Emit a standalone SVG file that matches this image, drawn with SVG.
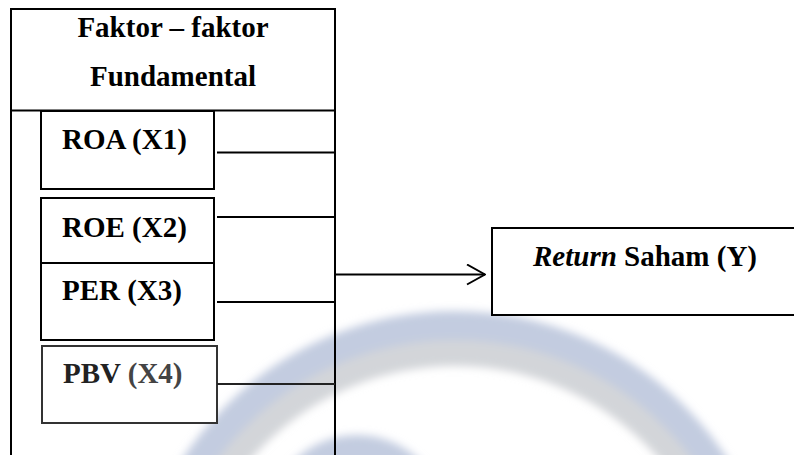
<svg xmlns="http://www.w3.org/2000/svg" width="794" height="455" viewBox="0 0 794 455">
  <defs>
    <style>
      .ln { stroke: #000; stroke-width: 2; fill: none; }
      .box { stroke: #000; stroke-width: 2; fill: #fff; }
      .wm { fill: none; }
    </style>
    <filter id="blur" x="-20%" y="-20%" width="140%" height="140%">
      <feGaussianBlur stdDeviation="4"/>
    </filter>
    <marker id="arrow" viewBox="0 0 20 22" refX="19" refY="11" markerWidth="20" markerHeight="22" markerUnits="userSpaceOnUse" orient="auto">
      <path d="M1,1 L19,11 L1,21" fill="none" stroke="#000" stroke-width="2"/>
    </marker>
  </defs>
  <rect width="794" height="455" fill="#fff"/>

  <g id="watermark" filter="url(#blur)">
    <circle class="wm" cx="455" cy="636" r="310" stroke="#c3cce0" stroke-width="30"/>
    <circle class="wm" cx="455" cy="636" r="283" stroke="#d3d5d9" stroke-width="26"/>
    <circle class="wm" cx="357" cy="525" r="75" stroke="#c3cce0" stroke-width="30"/>
  </g>

  <g id="fundamental">
    <path class="ln" d="M11,458 V9 H335 V458"/>
    <line class="ln" x1="11" y1="110.5" x2="335" y2="110.5"/>
    <text x="173" y="37" text-anchor="middle" font-family="Liberation Serif" font-size="29" font-weight="bold">Faktor – faktor</text>
    <text x="173" y="86" text-anchor="middle" font-family="Liberation Serif" font-size="29" font-weight="bold">Fundamental</text>
  </g>

  <g id="roa">
    <rect class="box" x="41" y="111" width="173" height="78"/>
    <text x="62" y="149" font-family="Liberation Serif" font-size="29" font-weight="bold">ROA (X1)</text>
  </g>
  <g id="roe">
    <rect class="box" x="41" y="198" width="173" height="65"/>
    <text x="62" y="237" font-family="Liberation Serif" font-size="29" font-weight="bold">ROE (X2)</text>
  </g>
  <g id="per">
    <rect class="box" x="41" y="263" width="173" height="77"/>
    <text x="62" y="300" font-family="Liberation Serif" font-size="29" font-weight="bold">PER (X3)</text>
  </g>
  <g id="pbv">
    <rect class="box" x="42" y="346" width="175" height="77" style="stroke:#333"/>
    <text x="63" y="383" font-family="Liberation Serif" font-size="29" font-weight="bold" fill="#222">PBV <tspan fill="#444">(X4)</tspan></text>
  </g>

  <g id="return">
    <rect class="box" x="492" y="228" width="320" height="87"/>
    <text x="533" y="266" font-family="Liberation Serif" font-size="29" font-weight="bold"><tspan font-style="italic">Return</tspan> Saham (Y)</text>
  </g>

  <g id="connectors">
    <line class="ln" x1="217" y1="152.5" x2="335" y2="152.5"/>
    <line class="ln" x1="217" y1="217" x2="335" y2="217"/>
    <line class="ln" x1="217" y1="302" x2="335" y2="302"/>
    <line class="ln" x1="217" y1="384" x2="335" y2="384" style="stroke:#222"/>
    <line class="ln" x1="335" y1="274.5" x2="485" y2="274.5" marker-end="url(#arrow)"/>
  </g>
</svg>
